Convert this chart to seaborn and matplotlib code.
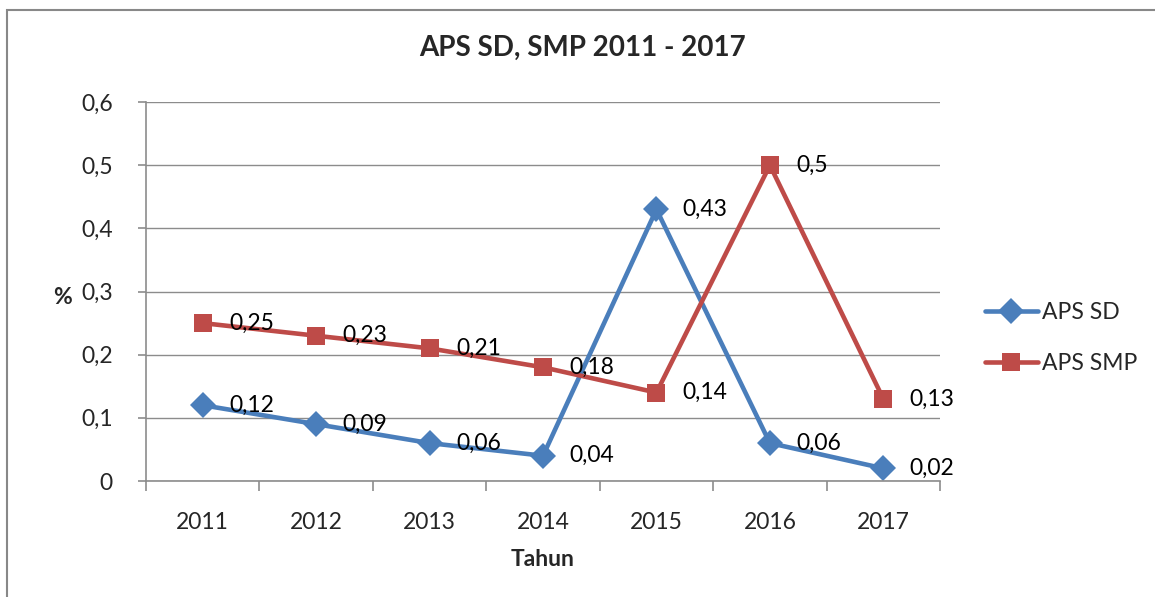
import matplotlib
matplotlib.use("Agg")
import matplotlib.pyplot as plt
from matplotlib.patches import Rectangle
from matplotlib.ticker import FixedLocator, FuncFormatter
import seaborn as sns
import pandas as pd

# data
years = ["2011", "2012", "2013", "2014", "2015", "2016", "2017"]
aps_sd = [0.12, 0.09, 0.06, 0.04, 0.43, 0.06, 0.02]
aps_smp = [0.25, 0.23, 0.21, 0.18, 0.14, 0.50, 0.13]
series_names = ["APS SD", "APS SMP"]

df = pd.DataFrame({
    "Tahun": years * 2,
    "nilai": aps_sd + aps_smp,
    "seri": [series_names[0]] * len(years) + [series_names[1]] * len(years),
})

sns.set_style("white")
plt.rcParams["font.family"] = ["Lato", "DejaVu Sans"]

palette = {"APS SD": "#4A7EBB", "APS SMP": "#BE4B48"}
markers = {"APS SD": "D", "APS SMP": "s"}

fig = plt.figure(figsize=(11.55, 5.97), dpi=100)
ax = fig.add_axes([0.1264, 0.1943, 0.6875, 0.6348])

sns.lineplot(data=df, x="Tahun", y="nilai", hue="seri", style="seri",
             palette=palette, markers=markers, dashes=False, sort=False,
             linewidth=3.3, markersize=13, markeredgewidth=0, ax=ax)

# data labels
for name, vals in zip(series_names, [aps_sd, aps_smp]):
    for i, v in enumerate(vals):
        txt = ("%g" % v).replace(".", ",")
        ax.annotate(txt, (i, v), xytext=(19, 0), textcoords="offset points",
                    ha="left", va="center", fontsize=16.5, color="black")

ax.set_xlim(-0.5, len(years) - 0.5)
ax.set_ylim(0, 0.6)
ax.set_yticks([0, 0.1, 0.2, 0.3, 0.4, 0.5, 0.6])
ax.yaxis.set_major_formatter(FuncFormatter(lambda v, p: ("%g" % round(v, 2)).replace(".", ",")))
ax.xaxis.set_minor_locator(FixedLocator([i - 0.5 for i in range(len(years) + 1)]))

ax.grid(axis="y", color="#8C8C8C", linewidth=1)
ax.set_axisbelow(True)
for s in ["top", "right"]:
    ax.spines[s].set_visible(False)
for s in ["left", "bottom"]:
    ax.spines[s].set_color("#8C8C8C")
    ax.spines[s].set_linewidth(1.2)

ax.tick_params(axis="x", which="major", length=0, pad=22, labelsize=16.5)
ax.tick_params(axis="x", which="minor", length=7, color="#8C8C8C", width=1.2, direction="out")
ax.tick_params(axis="y", length=6, color="#8C8C8C", width=1.2, direction="out", pad=18, labelsize=16.5)
ax.tick_params(bottom=True, left=True, which="both")

fig.text(583 / 1155, 1 - 48 / 597, "APS SD, SMP 2011 - 2017", fontsize=20,
         fontweight="bold", ha="center", va="center")
ax.set_xlabel("Tahun", fontsize=16.5, fontweight="bold", labelpad=12)
ax.set_ylabel("")
fig.text(62 / 1155, 1 - 297 / 597, "%", fontsize=16.5, fontweight="bold",
         ha="center", va="center")

leg = ax.legend(loc="center left", bbox_to_anchor=(0.843, 1 - 338 / 597),
                bbox_transform=fig.transFigure, frameon=False,
                fontsize=16.5, handlelength=2.3, labelspacing=1.35,
                handletextpad=0.2, borderpad=0)
leg.set_title(None)

# outer chart frame
fig.patches.append(Rectangle((7 / 1155, -0.1), 2, (597 - 10) / 597 + 0.1,
                             transform=fig.transFigure, fill=False,
                             edgecolor="#888888", linewidth=1.5))

fig.savefig("out.png", dpi=100)
